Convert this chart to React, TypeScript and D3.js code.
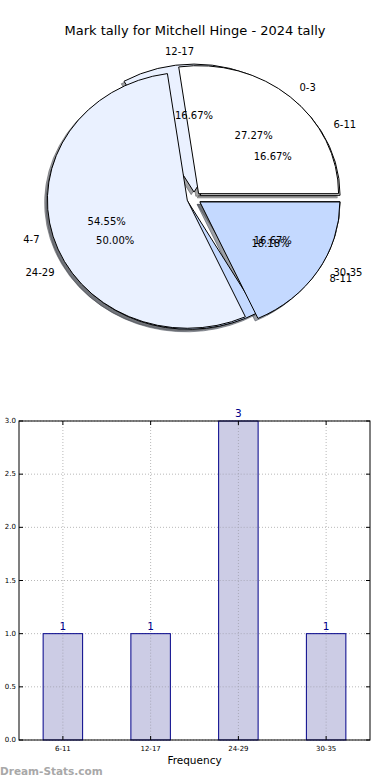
import React from 'react';
import * as d3 from 'd3';

const title = 'Mark tally for Mitchell Hinge - 2024 tally';
const pieALabels = ['0-3', '4-7', '8-11'];
const pieAValues = [3, 6, 2];
const pieBLabels = ['6-11', '12-17', '24-29', '30-35'];
const pieBValues = [1, 1, 3, 1];
const pieColors = ['#FFFFFF', '#EAF1FF', '#C4D9FF'];
const barLabels = ['6-11', '12-17', '24-29', '30-35'];
const barValues = [1, 1, 3, 1];
const yTicks = [0, 0.5, 1, 1.5, 2, 2.5, 3];
const xAxisTitle = 'Frequency';
const watermark = 'Dream-Stats.com';

const W = 390;
const H = 780;
const FONT = '"DejaVu Sans", Verdana, sans-serif';

// pie geometry
const PCX = 194;
const PCY = 198.5;
const RX = 140;
const RY = 128;
const EXPLODE = 0.05;
const SHADOW = 0.02;

type Wedge = {
  label: string;
  value: number;
  pct: number;
  color: string;
  path: string;
  ox: number;
  oy: number;
  mid: number;
};

function buildPie(labels: string[], values: number[]): Wedge[] {
  const total = d3.sum(values);
  const gen = d3
    .pie<number>()
    .sort(null)
    .startAngle(Math.PI / 2)
    .endAngle(Math.PI / 2 - 2 * Math.PI);
  const arcs = gen(values);
  const arcGen = d3.arc<any>();
  return arcs.map((a, i) => {
    const mid = (a.startAngle + a.endAngle) / 2;
    const path = arcGen({ innerRadius: 0, outerRadius: 1, startAngle: a.startAngle, endAngle: a.endAngle }) as string;
    return {
      label: labels[i],
      value: values[i],
      pct: (values[i] / total) * 100,
      color: pieColors[i % pieColors.length],
      path,
      ox: PCX + EXPLODE * RX * Math.sin(mid),
      oy: PCY - EXPLODE * RY * Math.cos(mid),
      mid,
    };
  });
}

function shadowColor(c: string) {
  const r = d3.rgb(c);
  return d3.rgb(r.r * 0.3, r.g * 0.3, r.b * 0.3).formatHex();
}

export default function App() {
  const pieA = buildPie(pieALabels, pieAValues);
  const pieB = buildPie(pieBLabels, pieBValues);
  const allWedges = [...pieB, ...pieA];

  // bar chart
  const left = 19, right = 370, top = 421, bottom = 740;
  const x = d3.scaleLinear().domain([-0.5, barLabels.length - 0.5]).range([left, right]);
  const y = d3.scaleLinear().domain([0, 3]).range([bottom, top]);
  const bw = 0.45;
  const fmtPct = d3.format('.2f');
  const fmtTick = d3.format('.1f');

  return (
    <svg
      width={W}
      height={H}
      style={{ position: 'absolute', left: 0, top: 0, background: '#fff' }}
      fontFamily={FONT}
    >
      <rect x={0} y={0} width={W} height={H} fill="#fff" />
      <text x={195} y={35} textAnchor="middle" fontSize={13} fill="#000">
        {title}
      </text>

      {/* shadows */}
      {allWedges.map((w, i) => (
        <path
          key={'s' + i}
          d={w.path}
          transform={`translate(${w.ox - SHADOW * RX},${w.oy + SHADOW * RY}) scale(${RX},${RY})`}
          fill={shadowColor(w.color)}
          fillOpacity={0.5}
          stroke={shadowColor(w.color)}
          strokeOpacity={0.5}
          strokeWidth={1}
          vectorEffect="non-scaling-stroke"
        />
      ))}
      {/* wedges */}
      {allWedges.map((w, i) => (
        <path
          key={'w' + i}
          d={w.path}
          transform={`translate(${w.ox},${w.oy}) scale(${RX},${RY})`}
          fill={w.color}
          stroke="#000"
          strokeWidth={1}
          vectorEffect="non-scaling-stroke"
          strokeLinejoin="miter"
        />
      ))}
      {/* labels */}
      {allWedges.map((w, i) => {
        const s = Math.sin(w.mid);
        const c = Math.cos(w.mid);
        return (
          <g key={'t' + i} fontSize={10} fill="#000">
            <text
              x={w.ox + 1.1 * RX * s}
              y={w.oy - 1.1 * RY * c}
              textAnchor={s > 0.001 ? 'start' : 'end'}
              dominantBaseline="central"
            >
              {w.label}
            </text>
            <text
              x={w.ox + 0.6 * RX * s}
              y={w.oy - 0.6 * RY * c}
              textAnchor="middle"
              dominantBaseline="central"
            >
              {fmtPct(w.pct) + '%'}
            </text>
          </g>
        );
      })}

      {/* bar chart grid */}
      <g stroke="#b8b8b8" strokeWidth={1} strokeDasharray="1,2">
        {yTicks.map((t) => (
          <line key={'gy' + t} x1={left} x2={right} y1={y(t)} y2={y(t)} />
        ))}
        {barLabels.map((_, i) => (
          <line key={'gx' + i} x1={x(i)} x2={x(i)} y1={top} y2={bottom} />
        ))}
      </g>
      {/* bars */}
      {barValues.map((v, i) => (
        <rect
          key={'b' + i}
          x={x(i - bw / 2)}
          y={y(v)}
          width={x(bw) - x(0)}
          height={y(0) - y(v)}
          fill="#CCCCE5"
          stroke="#000088"
          strokeWidth={1}
        />
      ))}
      {/* grid over bars (dotted lines visible inside bars) */}
      <g stroke="#a8a8b8" strokeWidth={1} strokeDasharray="1,2">
        {barValues.map((v, i) => (
          <line key={'gb' + i} x1={x(i)} x2={x(i)} y1={y(v) + 1} y2={bottom} />
        ))}
        {barValues.map((v, i) =>
          yTicks
            .filter((t) => t > 0 && t < v)
            .map((t) => (
              <line
                key={'gbh' + i + '-' + t}
                x1={x(i - bw / 2) + 1}
                x2={x(i + bw / 2) - 1}
                y1={y(t)}
                y2={y(t)}
              />
            ))
        )}
      </g>
      {/* bar value labels */}
      {barValues.map((v, i) => (
        <text key={'bl' + i} x={x(i)} y={y(v) - 4} textAnchor="middle" fontSize={10.5} fill="#00008B">
          {v}
        </text>
      ))}
      {/* axes frame */}
      <rect x={left} y={top} width={right - left} height={bottom - top} fill="none" stroke="#000" strokeWidth={1} />
      {/* ticks */}
      <g stroke="#000" strokeWidth={1}>
        {yTicks.map((t) => (
          <g key={'ty' + t}>
            <line x1={left} x2={left + 4} y1={y(t)} y2={y(t)} />
            <line x1={right} x2={right - 4} y1={y(t)} y2={y(t)} />
          </g>
        ))}
        {barLabels.map((_, i) => (
          <g key={'tx' + i}>
            <line x1={x(i)} x2={x(i)} y1={bottom} y2={bottom - 4} />
            <line x1={x(i)} x2={x(i)} y1={top} y2={top + 4} />
          </g>
        ))}
      </g>
      {/* tick labels */}
      {yTicks.map((t) => (
        <text key={'yl' + t} x={16} y={y(t)} textAnchor="end" dominantBaseline="central" fontSize={7} fill="#000">
          {fmtTick(t)}
        </text>
      ))}
      {barLabels.map((l, i) => (
        <text key={'xl' + i} x={x(i)} y={751} textAnchor="middle" fontSize={7} fill="#000">
          {l}
        </text>
      ))}
      <text x={194.5} y={764} textAnchor="middle" fontSize={10.5} fill="#000">
        {xAxisTitle}
      </text>
      <text x={0} y={775} fontSize={10.5} fontWeight="bold" fill="#a8a8a8">
        {watermark}
      </text>
    </svg>
  );
}
